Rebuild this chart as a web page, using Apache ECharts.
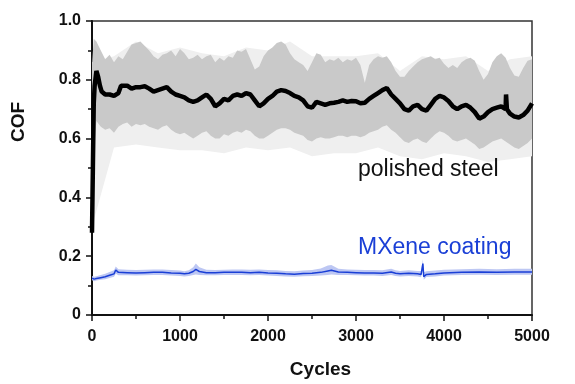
<!DOCTYPE html>
<html><head><meta charset="utf-8">
<script src="https://cdn.jsdelivr.net/npm/echarts@6/dist/echarts.min.js"></script>
<style>html,body{margin:0;padding:0;background:#fff}#c{width:575px;height:384px}</style>
</head><body><div id="c"></div>
<script>
// ---- Polished steel: mean COF ----
var steelCycles = [0,10,20,30,50,70,90,110,150,200,250,300,330,350,400,450,500,550,600,650,700,750,800,850,900,950,1000,1050,1100,1150,1200,1250,1300,1350,1400,1450,1500,1550,1600,1650,1700,1750,1800,1850,1900,1950,2000,2050,2100,2150,2200,2250,2300,2350,2400,2450,2500,2550,2600,2650,2700,2750,2800,2850,2900,2950,3000,3050,3100,3150,3200,3250,3300,3350,3400,3450,3500,3550,3600,3650,3700,3750,3800,3850,3900,3950,4000,4050,4100,4150,4200,4250,4300,4350,4400,4450,4500,4550,4600,4650,4700,4705,4715,4750,4800,4850,4900,4950,5000];
var steelCOF = [0.28,0.50,0.72,0.78,0.83,0.81,0.78,0.76,0.75,0.75,0.745,0.755,0.78,0.775,0.78,0.77,0.775,0.775,0.778,0.77,0.76,0.765,0.77,0.775,0.76,0.75,0.745,0.74,0.73,0.725,0.73,0.74,0.75,0.735,0.71,0.72,0.735,0.73,0.745,0.75,0.745,0.755,0.75,0.73,0.71,0.72,0.735,0.745,0.76,0.765,0.762,0.755,0.745,0.74,0.73,0.71,0.705,0.725,0.72,0.715,0.72,0.722,0.725,0.73,0.725,0.728,0.727,0.72,0.722,0.735,0.745,0.755,0.765,0.772,0.75,0.735,0.72,0.70,0.695,0.71,0.715,0.70,0.695,0.715,0.735,0.745,0.74,0.728,0.71,0.70,0.71,0.715,0.705,0.69,0.668,0.675,0.69,0.70,0.705,0.71,0.70,0.75,0.70,0.685,0.675,0.672,0.68,0.695,0.72];

// ---- Polished steel: scatter band (dense part) ----
var bandCycles = [0,20,50,100,150,200,250,300,350,400,450,500,550,600,650,700,750,800,850,900,950,1000,1050,1100,1150,1200,1250,1300,1350,1400,1450,1500,1550,1600,1650,1700,1750,1800,1850,1900,1950,2000,2050,2100,2150,2200,2250,2300,2350,2400,2450,2500,2550,2600,2650,2700,2750,2800,2850,2900,2950,3000,3050,3100,3150,3200,3250,3300,3350,3400,3450,3500,3550,3600,3650,3700,3750,3800,3850,3900,3950,4000,4050,4100,4150,4200,4250,4300,4350,4400,4450,4500,4550,4600,4650,4700,4750,4800,4850,4900,4950,5000];
var bandUpper = [0.85,0.94,0.93,0.90,0.87,0.885,0.86,0.88,0.87,0.895,0.92,0.925,0.93,0.915,0.90,0.88,0.87,0.885,0.89,0.90,0.88,0.905,0.89,0.87,0.875,0.885,0.87,0.88,0.885,0.86,0.875,0.865,0.88,0.875,0.90,0.895,0.905,0.87,0.835,0.845,0.88,0.90,0.91,0.925,0.93,0.92,0.89,0.87,0.86,0.85,0.83,0.86,0.89,0.885,0.86,0.87,0.865,0.875,0.86,0.87,0.865,0.875,0.85,0.79,0.85,0.87,0.88,0.875,0.88,0.86,0.83,0.81,0.81,0.83,0.845,0.86,0.87,0.875,0.88,0.87,0.875,0.855,0.84,0.85,0.84,0.86,0.87,0.875,0.865,0.83,0.80,0.82,0.86,0.88,0.89,0.875,0.84,0.815,0.81,0.84,0.865,0.87];
var bandLower = [0.30,0.55,0.66,0.64,0.63,0.635,0.62,0.64,0.65,0.655,0.64,0.65,0.645,0.65,0.64,0.635,0.63,0.64,0.645,0.63,0.62,0.615,0.62,0.61,0.60,0.61,0.62,0.625,0.61,0.60,0.60,0.615,0.61,0.62,0.625,0.62,0.63,0.625,0.61,0.60,0.60,0.61,0.62,0.63,0.635,0.635,0.63,0.62,0.615,0.61,0.595,0.59,0.60,0.605,0.60,0.60,0.605,0.61,0.61,0.605,0.61,0.61,0.605,0.61,0.62,0.625,0.63,0.64,0.645,0.63,0.62,0.605,0.59,0.585,0.595,0.60,0.59,0.585,0.60,0.615,0.625,0.62,0.61,0.595,0.59,0.595,0.60,0.59,0.58,0.565,0.57,0.58,0.59,0.595,0.60,0.59,0.58,0.57,0.565,0.575,0.585,0.60];

// ---- Polished steel: faint outer fringe of the band ----
var fringeCycles = [0,250,500,750,1000,1250,1500,1750,2000,2250,2500,2750,3000,3250,3500,3750,4000,4250,4500,4750,5000];
var fringeUpper = [0.86,0.88,0.93,0.89,0.91,0.89,0.88,0.91,0.90,0.93,0.88,0.88,0.88,0.89,0.83,0.88,0.87,0.88,0.83,0.87,0.88];
var fringeLower = [0.30,0.57,0.58,0.57,0.56,0.56,0.55,0.57,0.56,0.57,0.54,0.55,0.55,0.57,0.54,0.53,0.55,0.54,0.52,0.53,0.54];

// ---- MXene coating ----
var mxCycles = [0,25,50,100,150,200,250,270,300,400,500,600,700,800,900,1000,1050,1100,1150,1180,1220,1300,1400,1500,1600,1700,1800,1900,2000,2100,2200,2300,2400,2500,2600,2680,2720,2800,2900,3000,3100,3200,3300,3400,3450,3500,3600,3700,3740,3760,3770,3800,3900,4000,4200,4400,4600,4800,5000];
var mxCOF = [0.125,0.122,0.124,0.127,0.13,0.135,0.14,0.153,0.145,0.144,0.143,0.144,0.145,0.145,0.143,0.142,0.14,0.142,0.148,0.155,0.148,0.144,0.144,0.145,0.145,0.145,0.144,0.145,0.143,0.142,0.14,0.139,0.141,0.142,0.145,0.15,0.152,0.146,0.145,0.144,0.143,0.143,0.142,0.146,0.142,0.14,0.142,0.14,0.138,0.175,0.13,0.138,0.14,0.143,0.145,0.146,0.145,0.146,0.146];
var mxUpper = [0.133,0.130,0.132,0.136,0.14,0.146,0.152,0.165,0.156,0.154,0.153,0.154,0.155,0.155,0.153,0.151,0.149,0.152,0.162,0.175,0.162,0.154,0.153,0.154,0.155,0.155,0.154,0.155,0.153,0.152,0.15,0.149,0.151,0.153,0.158,0.168,0.17,0.157,0.155,0.154,0.153,0.153,0.152,0.157,0.152,0.15,0.152,0.15,0.15,0.19,0.145,0.149,0.151,0.154,0.156,0.157,0.156,0.157,0.157];
var mxLower = [0.118,0.115,0.117,0.12,0.122,0.126,0.13,0.14,0.135,0.135,0.134,0.135,0.136,0.136,0.134,0.133,0.131,0.133,0.136,0.138,0.136,0.135,0.135,0.136,0.136,0.136,0.135,0.136,0.134,0.133,0.131,0.13,0.132,0.133,0.134,0.136,0.138,0.136,0.136,0.135,0.134,0.134,0.133,0.136,0.133,0.131,0.133,0.131,0.128,0.16,0.12,0.129,0.131,0.134,0.136,0.137,0.136,0.137,0.137];

// ---- axis ticks / labels ----
var xTicks = {min: 0, max: 5000, interval: 1000};
var yTicks = {min: 0, max: 1.0, interval: 0.2};
var xTitle = 'Cycles', yTitle = 'COF';
var steelLabel = 'polished steel', mxLabel = 'MXene coating';

function pairs(xs, ys) { return xs.map(function (x, i) { return [x, ys[i]]; }); }
function triples(xs, lo, hi) { return xs.map(function (x, i) { return [x, lo[i], hi[i]]; }); }

var FONT = 'Arial, "Liberation Sans", sans-serif';

// Band drawn as one polygon through the axes' own scales (api.coord)
function band(name, xs, hi, lo, color) {
  var data = triples(xs, lo, hi);
  return {
    name: name, type: 'custom', silent: true, clip: true,
    data: data, encode: {x: 0, y: [1, 2]},
    renderItem: function (params, api) {
      if (params.dataIndex !== 0) return null;
      var top = [], bot = [];
      for (var i = 0; i < data.length; i++) {
        top.push(api.coord([data[i][0], data[i][2]]));
        bot.push(api.coord([data[i][0], data[i][1]]));
      }
      var pts = top.concat(bot.reverse());
      return {type: 'polygon', shape: {points: pts}, style: {fill: color, stroke: null}};
    }
  };
}

var chart = echarts.init(document.getElementById('c'), null, {renderer: 'canvas'});
var series = [
  band('steel fringe', fringeCycles, fringeUpper, fringeLower, '#efefef'),
  band('steel band', bandCycles, bandUpper, bandLower, '#c9c9c9'),
  {name: 'polished steel', type: 'line', data: pairs(steelCycles, steelCOF), showSymbol: false, symbol: 'none',
   lineStyle: {color: '#000', width: 4.5}},
  band('MXene band', mxCycles, mxUpper, mxLower, '#bdc7f3'),
  {name: 'MXene coating', type: 'line', data: pairs(mxCycles, mxCOF), showSymbol: false, symbol: 'none',
   lineStyle: {color: '#1a3fd6', width: 1.5}}
];

chart.setOption({
  animation: false,
  backgroundColor: '#fff',
  grid: {left: 92, right: 43, top: 21, bottom: 67, show: true, borderColor: '#333', borderWidth: 1.5, backgroundColor: 'transparent'},
  xAxis: {
    type: 'value', min: xTicks.min, max: xTicks.max, interval: xTicks.interval,
    axisLine: {show: true, onZero: false, lineStyle: {color: '#111', width: 2}},
    axisTick: {show: true, inside: false, length: 6, lineStyle: {color: '#111', width: 1.5}},
    minorTick: {show: true, splitNumber: 2, length: 4, lineStyle: {color: '#111', width: 1.5}},
    splitLine: {show: false},
    axisLabel: {color: '#111', fontFamily: FONT, fontWeight: 'bold', fontSize: 16, margin: 14,
      formatter: function (v) { return String(v); }},
    name: xTitle, nameLocation: 'middle', nameGap: 45,
    nameTextStyle: {color: '#111', fontFamily: FONT, fontWeight: 'bold', fontSize: 19, padding: [0, 0, 0, 17]}
  },
  yAxis: {
    type: 'value', min: yTicks.min, max: yTicks.max, interval: yTicks.interval,
    axisLine: {show: true, onZero: false, lineStyle: {color: '#111', width: 2}},
    axisTick: {show: true, inside: false, length: 6, lineStyle: {color: '#111', width: 1.5}},
    minorTick: {show: true, splitNumber: 2, length: 4, lineStyle: {color: '#111', width: 1.5}},
    splitLine: {show: false},
    axisLabel: {color: '#111', fontFamily: FONT, fontWeight: 'bold', fontSize: 16, margin: 11,
      formatter: function (v) { return v === 0 ? '0' : v.toFixed(1); }},
    name: yTitle, nameLocation: 'middle', nameGap: 64,
    nameTextStyle: {color: '#111', fontFamily: FONT, fontWeight: 'bold', fontSize: 19, padding: [0, 0, 0, 92]}
  },
  graphic: [
    {type: 'text', left: 358, top: 158, silent: true, z: 100,
     style: {text: steelLabel, fill: '#111', fontSize: 23, fontFamily: FONT}},
    {type: 'text', left: 358, top: 236, silent: true, z: 100,
     style: {text: mxLabel, fill: '#1a3fd6', fontSize: 23, fontFamily: FONT}}
  ],
  series: series
});
</script></body></html>
